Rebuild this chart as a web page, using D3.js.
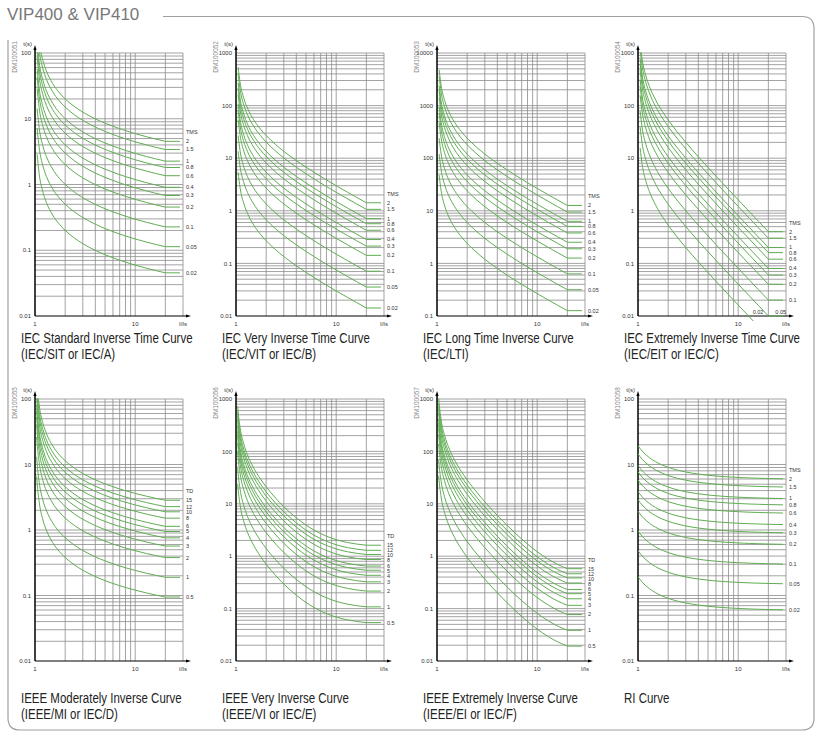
<!DOCTYPE html>
<html><head><meta charset="utf-8">
<script src="https://cdn.jsdelivr.net/npm/d3@7"></script>
<style>body{margin:0;background:#fff;} svg{display:block;}</style>
</head><body><svg id="c" width="822" height="734"></svg>
<script>
// Current multiples (I/Is) at which the base curves (setting = 1) were read
const currentPoints = [1, 1.04, 1.05, 1.1, 1.2, 1.3, 1.5, 1.75, 2, 2.5, 3, 4, 5, 6, 7, 8, 10, 13, 16, 20, 28];
// Base tripping times t(s) for setting 1, read along each family
const baseSIT = [null, null, 143.4, 73.4, 38.3, 26.6, 17.2, 12.44, 10.03, 7.57, 6.30, 4.98, 4.28, 3.84, 3.53, 3.30, 2.97, 2.66, 2.455, 2.267, 2.267];
const baseVIT = [null, null, 270, 135, 67.5, 45, 27, 18, 13.5, 9, 6.75, 4.5, 3.375, 2.7, 2.25, 1.929, 1.5, 1.125, 0.9, 0.7105, 0.7105];
const baseLTI = [null, null, 2400, 1200, 600, 400, 240, 160, 120, 80, 60, 40, 30, 24, 20, 17.14, 13.33, 10, 8, 6.316, 6.316];
const baseEIT = [null, null, 780.5, 381, 181.8, 115.9, 64, 38.8, 26.67, 15.24, 10, 5.333, 3.333, 2.286, 1.667, 1.270, 0.808, 0.476, 0.314, 0.2005, 0.2005];
const baseMI  = [null, 13.14, 10.58, 5.42, 2.842, 1.981, 1.288, 0.938, 0.7607, 0.5797, 0.4864, 0.3892, 0.3377, 0.3051, 0.2823, 0.2653, 0.2414, 0.2185, 0.2034, 0.1896, 0.1896];
const baseVI  = [null, 48.2, 38.4, 18.77, 9.01, 5.78, 3.236, 2.0, 1.406, 0.845, 0.588, 0.360, 0.2616, 0.2103, 0.1799, 0.1605, 0.1378, 0.1215, 0.1136, 0.1080, 0.1080];
const baseEI  = [null, 69.1, 55.05, 26.88, 12.84, 8.198, 4.536, 2.759, 1.904, 1.099, 0.7293, 0.4003, 0.2593, 0.1855, 0.1418, 0.1139, 0.0813, 0.0579, 0.0465, 0.0385, 0.0385];
const baseRI  = [9.709, 8.922, 8.753, 8.035, 7.026, 6.351, 5.505, 4.899, 4.525, 4.088, 3.841, 3.571, 3.427, 3.337, 3.276, 3.231, 3.171, 3.117, 3.084, 3.056, 3.025];

const tmsSettings = [2, 1.5, 1, 0.8, 0.6, 0.4, 0.3, 0.2, 0.1, 0.05, 0.02];
const tdSettings = [15, 12, 10, 8, 6, 5, 4, 3, 2, 1, 0.5];

const chartTitle = "VIP400 & VIP410";
const panelNames = ["IEC Standard Inverse Time Curve", "IEC Very Inverse Time Curve", "IEC Long Time Inverse Curve", "IEC Extremely Inverse Time Curve",
  "IEEE Moderately Inverse Curve", "IEEE Very Inverse Curve", "IEEE Extremely Inverse Curve", "RI Curve"];
const panelSubNames = ["(IEC/SIT or IEC/A)", "(IEC/VIT or IEC/B)", "(IEC/LTI)", "(IEC/EIT or IEC/C)",
  "(IEEE/MI or IEC/D)", "(IEEE/VI or IEC/E)", "(IEEE/EI or IEC/F)", ""];
const panelCodes = ["DM100051", "DM100052", "DM100053", "DM100054", "DM100055", "DM100056", "DM100057", "DM100058"];
const panelBases = [baseSIT, baseVIT, baseLTI, baseEIT, baseMI, baseVI, baseEI, baseRI];
const panelSettingName = ["TMS", "TMS", "TMS", "TMS", "TD", "TD", "TD", "TMS"];
const panelSettings = [tmsSettings, tmsSettings, tmsSettings, tmsSettings, tdSettings, tdSettings, tdSettings, tmsSettings];
const panelTimeMin = [0.01, 0.01, 0.1, 0.01, 0.01, 0.01, 0.01, 0.01];
const panelTimeMax = [100, 1000, 10000, 1000, 100, 1000, 1000, 100];
const currentMin = 1, currentMax = 30, definiteFrom = 20;
const xGridValues = [2, 3, 4, 5, 6, 7, 8, 9, 10, 20, 30];
const xTickValues = [1, 10];
const xAxisName = "I/Is", yAxisName = "t(s)";

const svg = d3.select("#c");
const GREEN = "#5fad52", GRID = "#8c8c8c", TXT = "#333";
const FONT = "'Liberation Sans', Arial, sans-serif";
const LABEL_GAP = 5;

// outer frame
svg.append("path")
  .attr("d", "M163,16.5 H802 Q814,16.5 814,28.5 V718 Q814,730 802,730 H20 Q8,730 8,718 V40")
  .attr("fill", "none").attr("stroke", "#a0a0a0").attr("stroke-width", 1.2);
svg.append("text").attr("x", 7).attr("y", 20).text(chartTitle)
  .attr("font-family", FONT).attr("font-size", 17).attr("fill", "#787878");

const defs = svg.append("defs");

panelNames.forEach((name, i) => {
  const col = i % 4, row = Math.floor(i / 4);
  const x0 = 35 + 201 * col, x1 = x0 + 148;
  const yTop = row ? 399 : 53, yBot = row ? 661 : 316;
  const tMin = panelTimeMin[i], tMax = panelTimeMax[i];
  const x = d3.scaleLog().domain([currentMin, currentMax]).range([x0, x1]);
  const y = d3.scaleLog().domain([tMin, tMax]).range([yBot, yTop]);
  const g = svg.append("g");

  // horizontal grid
  const hVals = [];
  for (let e = Math.round(Math.log10(tMin)); e < Math.round(Math.log10(tMax)); e++)
    for (let k = 1; k <= 9; k++) hVals.push(k * Math.pow(10, e));
  hVals.push(tMax);
  g.append("g").selectAll("line").data(hVals.filter(v => v > tMin * 1.0001)).join("line")
    .attr("x1", x0).attr("x2", x1).attr("y1", d => y(d)).attr("y2", d => y(d))
    .attr("stroke", GRID).attr("stroke-width", 0.8);
  g.append("g").selectAll("line").data(xGridValues).join("line")
    .attr("x1", d => x(d)).attr("x2", d => x(d)).attr("y1", yTop).attr("y2", yBot)
    .attr("stroke", GRID).attr("stroke-width", 0.8);

  // axes
  g.append("line").attr("x1", x0).attr("x2", x1 + 5).attr("y1", yBot).attr("y2", yBot).attr("stroke", "#000").attr("stroke-width", 1);
  g.append("path").attr("d", `M${x1 + 8},${yBot} L${x1 + 3},${yBot - 1.6} L${x1 + 3},${yBot + 1.6} Z`).attr("fill", "#000");
  g.append("line").attr("x1", x0).attr("x2", x0).attr("y1", yBot).attr("y2", yTop - 4).attr("stroke", "#000").attr("stroke-width", 1.5);
  g.append("path").attr("d", `M${x0},${yTop - 8} L${x0 - 1.6},${yTop - 3} L${x0 + 1.6},${yTop - 3} Z`).attr("fill", "#000");

  // curves
  const clipId = "clip" + i;
  defs.append("clipPath").attr("id", clipId).append("rect")
    .attr("x", x0).attr("y", yTop - 0.5).attr("width", x1 - x0 + 1).attr("height", yBot - yTop + 5.5);
  const cg = g.append("g").attr("clip-path", `url(#${clipId})`);
  const base = panelBases[i];
  const curveLine = d3.line().x(d => x(d[0])).y(d => y(d[1])).curve(d3.curveMonotoneX);
  const flatLine = d3.line().x(d => x(d[0])).y(d => y(d[1]));
  const settings = panelSettings[i];
  settings.forEach(m => {
    const pts = currentPoints.map((I, j) => base[j] == null ? null : [I, base[j] * m]).filter(d => d);
    cg.append("path").attr("d", curveLine(pts.filter(d => d[0] <= definiteFrom)))
      .attr("fill", "none").attr("stroke", GREEN).attr("stroke-width", 1);
    cg.append("path").attr("d", flatLine(pts.filter(d => d[0] >= definiteFrom)))
      .attr("fill", "none").attr("stroke", GREEN).attr("stroke-width", 1);
  });

  // setting labels (right side, spaced so they don't collide)
  const lastVal = m => base[base.length - 1] * m;
  const lab = g.append("g").attr("font-family", FONT).attr("font-size", 5.5).attr("fill", TXT);
  const sideLabels = [];
  settings.forEach(m => {
    const v = lastVal(m);
    if (v < tMin * 0.99) {
      lab.append("text").text(String(m)).attr("dy", "0.35em")
        .attr("x", x(definiteFrom) - 5).attr("y", yBot - 4).attr("text-anchor", "end");
    } else if (v < tMin * 1.05) {
      lab.append("text").text(String(m)).attr("dy", "0.35em")
        .attr("x", x(definiteFrom) + 7).attr("y", yBot - 4);
    } else {
      sideLabels.push({ text: String(m), y: y(v) });
    }
  });
  sideLabels.sort((a, b) => a.y - b.y);
  for (let k = 1; k < sideLabels.length; k++)
    if (sideLabels[k].y < sideLabels[k - 1].y + LABEL_GAP) sideLabels[k].y = sideLabels[k - 1].y + LABEL_GAP;
  sideLabels.forEach(d => lab.append("text").text(d.text).attr("x", x1 + 3).attr("y", d.y).attr("dy", "0.35em"));
  lab.append("text").text(panelSettingName[i]).attr("x", x1 + 3).attr("y", sideLabels[0].y - 9).attr("dy", "0.35em");

  // tick labels
  const tk = g.append("g").attr("font-family", FONT).attr("font-size", 6).attr("fill", TXT);
  const decades = [];
  for (let e = Math.round(Math.log10(tMin)); e <= Math.round(Math.log10(tMax)); e++) decades.push(Math.pow(10, e));
  tk.selectAll(".yt").data(decades).join("text").attr("class", "yt")
    .attr("x", x0 - 4).attr("y", d => y(d)).attr("dy", "0.35em").attr("text-anchor", "end")
    .text(d => d3.format("~g")(+d.toPrecision(3)));
  tk.selectAll(".xt").data(xTickValues).join("text").attr("class", "xt")
    .attr("x", d => x(d)).attr("y", yBot + 8).attr("dy", "0.35em").attr("text-anchor", "middle")
    .text(d => d);
  tk.append("text").attr("x", x1).attr("y", yBot + 8).attr("dy", "0.35em").attr("text-anchor", "middle").text(xAxisName);
  tk.append("text").attr("x", x0 - 3).attr("y", yTop - 9).attr("dy", "0.35em").attr("text-anchor", "end").text(yAxisName);

  // code label
  g.append("text").text(panelCodes[i])
    .attr("transform", `translate(${x0 - 18},${yTop - 12}) rotate(-90)`)
    .attr("text-anchor", "end").attr("font-family", FONT).attr("font-size", 6.5).attr("fill", "#8a8a8a");

  // panel title
  const tx = x0 - 14, ty = row ? 703 : 343;
  [name, panelSubNames[i]].forEach((s, k) => {
    if (!s) return;
    svg.append("text").text(s)
      .attr("transform", `translate(${tx},${ty + 16 * k}) scale(0.82,1)`)
      .attr("font-family", FONT).attr("font-size", 14).attr("fill", "#222");
  });
});
</script></body></html>
